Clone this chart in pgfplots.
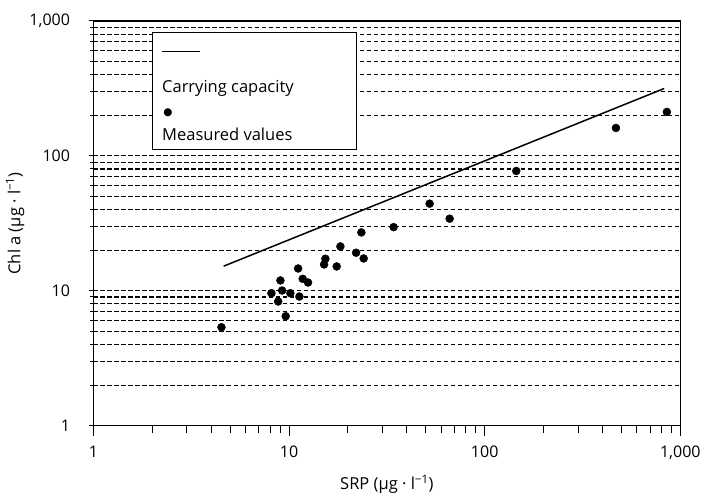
\documentclass[border=0pt]{standalone}
\usepackage{fontspec}
\setmainfont{Open Sans}
\newfontfamily\dejavu{DejaVu Sans}
\usepackage{pgfplots}
\pgfplotsset{compat=1.18}
\usetikzlibrary{calc}
\begin{document}
\begin{tikzpicture}[font=\fontsize{16.5bp}{19bp}\selectfont]
\begin{axis}[
  xmode=log, ymode=log,
  scale only axis, width=586.8bp, height=404.7bp,
  xmin=1, xmax=1000, ymin=1, ymax=1000,
  xtick={1,10,100,1000}, xticklabels={1,10,100,{\mbox{1,000}}},
  ytick={1,10,100,1000}, yticklabels={1,10,100,{\mbox{1,000}}},
  xtick pos=bottom, ytick pos=left,
  xtick align=outside, ytick align=center,
  major tick length=10bp, minor tick length=7bp,
  every tick/.style={black, line width=1bp},
  axis line style={black, line width=1.3bp},
  ymajorgrids=true, yminorgrids=true,
  xmajorgrids=false, xminorgrids=false,
  major grid style={black, line width=1.1bp, dash pattern=on 4.5bp off 2.5bp},
  minor grid style={black, line width=1.1bp, dash pattern=on 4.5bp off 2.5bp},
  yticklabel style={xshift=-15bp},
  xticklabel style={yshift=-7bp},
  tick label style={font=\fontsize{16bp}{18bp}\selectfont},
  clip=false,
]
% carrying capacity line
\addplot[black, line width=1.5bp, mark=none] coordinates {(4.63,15.23) (827.6,316)};
% measured values
\addplot[only marks, mark=*, mark size=4bp, black, mark options={fill=black}] coordinates {
(4.51,5.37) (8.12,9.60) (9.03,11.93) (9.21,10.05) (8.79,8.33) (10.15,9.60)
(9.61,6.48) (11.29,9.07) (11.12,14.64) (11.74,12.27) (12.50,11.52)
(15.33,17.28) (15.10,15.68) (17.51,15.15) (18.29,21.33) (22.00,19.15)
(24.06,17.37) (23.41,27.09) (34.23,29.66) (52.3,44.25) (66.2,34.24)
(145.0,77.3) (468.8,161.1) (854,211.8)
};
% legend
\draw[fill=white, line width=1bp] (rel axis cs:0.1014,0.6815) rectangle (rel axis cs:0.449,0.9728);
\draw[line width=1.5bp] (rel axis cs:0.1167,0.9242) -- (rel axis cs:0.1815,0.9242);
\node[anchor=base west, inner sep=0pt] at (rel axis cs:0.1167,0.8228) {Carrying capacity};
\node[inner sep=0pt, font=\dejavu\fontsize{10.5bp}{10.5bp}\selectfont] at (rel axis cs:0.127,0.7727) {●};
\node[anchor=base west, inner sep=0pt] at (rel axis cs:0.1167,0.7059) {Measured values};
\coordinate (sw) at (rel axis cs:0,0);
\coordinate (ne) at (rel axis cs:1,1);
\end{axis}
\node[rotate=90, anchor=center] at ($(sw)!0.5!(sw|-ne) + (-78.5bp,0)$) {Chl a (µg · l\textsuperscript{−1})};
\node[anchor=center] at ($(sw)!0.5!(sw-|ne) + (0,-58.3bp)$) {SRP (µg · l\textsuperscript{−1})};
\pgfresetboundingbox
\useasboundingbox ($(sw)+(-93.5bp,-67.3bp)$) rectangle ($(ne)+(24.7bp,21bp)$);
\end{tikzpicture}
\end{document}
